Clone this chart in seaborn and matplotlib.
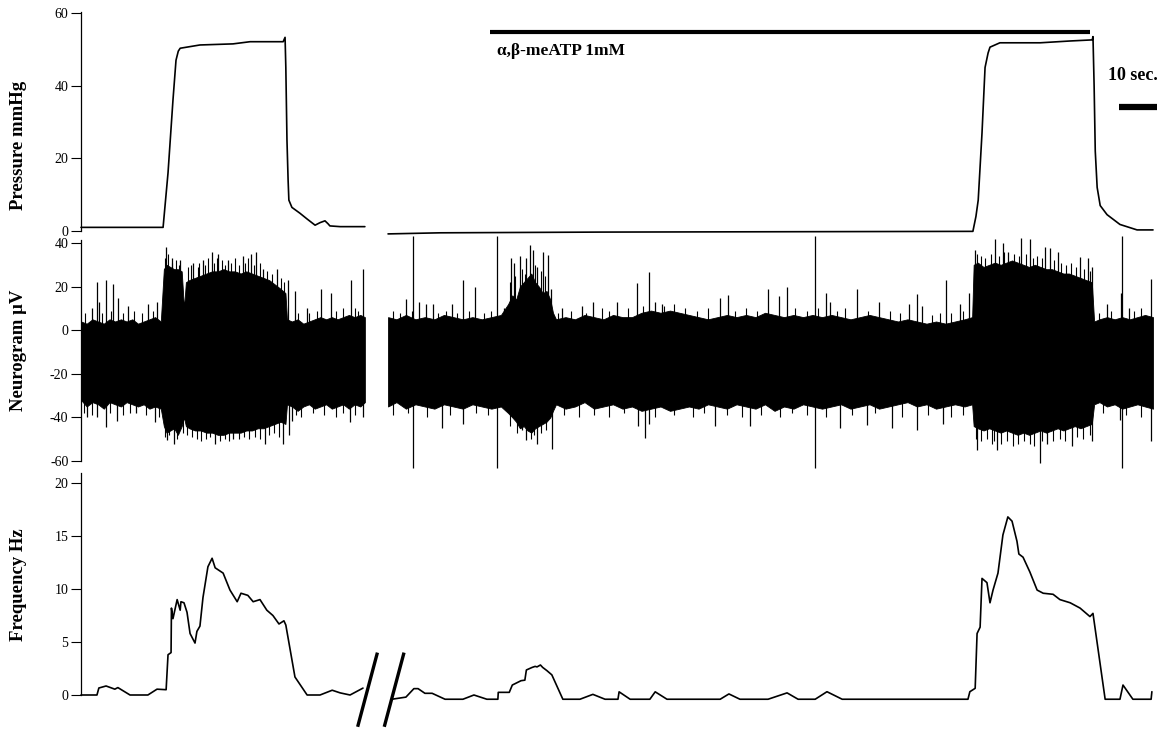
import matplotlib
matplotlib.use("Agg")
import matplotlib.pyplot as plt
import seaborn as sns

# ---------------- data (time in seconds) ----------------
# Pressure (mmHg)
press1_t = [0, 21.6, 22.9, 24.2, 25.0, 25.6, 26.1, 31.3, 40.0, 44.5, 53.2, 53.7, 53.9, 54.2, 54.5, 54.7,
            55.5, 57.6, 59.5, 61.6, 62.9, 64.2, 65.0, 65.5, 68.2, 74.7]
press1_v = [1.0, 1.0, 16, 36, 47, 49.5, 50.3, 51.2, 51.5, 52.1, 52.1, 53.3, 45, 25, 14, 8.5,
            6.5, 4.9, 3.3, 1.6, 2.3, 2.8, 2.0, 1.4, 1.2, 1.2]
press2_t = [80.8, 94.5, 136.6, 234.7, 235.5, 236.1, 237.1, 237.9, 238.7, 239.2, 241.8, 252.4, 260.3,
            266.1, 266.3, 266.6, 266.9, 267.4, 268.2, 270.0, 273.4, 277.9, 282.1]
press2_v = [-0.8, -0.5, -0.3, -0.1, 4, 8.5, 27, 45, 49, 50.6, 51.8, 51.8, 52.3,
            52.6, 53.5, 40, 22, 12, 7, 4.5, 1.8, 0.3, 0.3]

# Neurogram envelope (uV)
neuro1_t = [0, 1.5, 3, 4.5, 6, 7.5, 9, 10.5, 12, 13.5, 15, 16.5, 18, 19.5, 21,
            21.8, 22.5, 23.5, 24.5, 25.5, 26.5, 27.1, 27.6, 28.5, 30, 31.5, 33, 34.5, 36, 37.5, 39,
            40.5, 42, 43.5, 45, 46.5, 48, 49.5, 51, 52.5, 53.8,
            54.2, 55.5, 57, 58.5, 60, 61.5, 63, 64.5, 66, 67.5, 69, 70.5, 72, 73.5, 74.7]
neuro1_hi = [4, 3, 5, 4, 3, 5, 4, 5, 4, 5, 3, 4, 5, 6, 4,
             28, 30, 29, 28, 28, 27, 10, 22, 23, 24, 25, 26, 27, 27, 28, 27,
             27, 26, 27, 26, 25, 24, 23, 21, 19, 17,
             5, 4, 5, 3, 4, 5, 6, 5, 6, 5, 6, 7, 6, 7, 6]
neuro1_lo = [-32, -35, -33, -34, -36, -33, -34, -35, -33, -34, -35, -34, -36, -35, -36,
             -44, -47, -46, -45, -48, -44, -40, -44, -45, -46, -46, -47, -47, -48, -48, -47,
             -47, -47, -46, -46, -45, -45, -44, -43, -42, -43,
             -34, -35, -37, -35, -34, -36, -35, -34, -36, -35, -34, -36, -34, -35, -33]

neuro2_t = [80.8, 83, 85.5, 88, 90.5, 93, 95.5, 98, 100.5, 103, 105.5, 108, 110.5,
            112.4, 113.5, 114.5, 115.5, 116.5, 117.5, 118.5, 119.5, 120.5, 121.5, 122.5, 123.5, 124.2,
            125, 127.5, 130, 132.5, 135, 137.5, 140, 142.5, 145, 147.5, 150, 152.5, 155, 157.5, 160,
            162.5, 165, 167.5, 170, 172.5, 175, 177.5, 180, 182.5, 185, 187.5, 190, 192.5, 195, 197.5,
            200, 202.5, 205, 207.5, 210, 212.5, 215, 217.5, 220, 222.5, 225, 227.5, 230, 232.5, 234.5,
            234.9, 236, 237.5, 239, 240.5, 242, 243.5, 245, 246.5, 248, 249.5, 251, 252.5, 254, 255.5,
            257, 258.5, 260, 261.5, 263, 264.5, 266,
            266.6, 268, 270, 272, 274, 276, 278, 280, 282.1]
neuro2_hi = [6, 5, 7, 5, 6, 5, 7, 6, 5, 6, 5, 6, 7,
             12, 16, 14, 20, 22, 24, 26, 22, 20, 17, 18, 14, 8,
             5, 6, 5, 7, 6, 5, 7, 6, 6, 8, 9, 8, 9, 8, 7,
             6, 5, 6, 7, 6, 7, 6, 8, 7, 6, 7, 6, 7, 6, 7,
             6, 5, 6, 7, 6, 5, 4, 5, 4, 3, 4, 3, 4, 5, 6,
             30, 31, 29, 30, 31, 30, 31, 32, 31, 30, 29, 30, 29, 28, 28,
             27, 26, 26, 25, 24, 23, 22,
             4, 5, 6, 5, 6, 5, 6, 7, 6]
neuro2_lo = [-35, -33, -36, -34, -35, -36, -34, -35, -36, -34, -35, -36, -35,
             -38, -40, -42, -45, -44, -46, -47, -45, -44, -43, -42, -40, -37,
             -34, -36, -35, -33, -36, -35, -34, -36, -35, -37, -36, -35, -37, -36, -35,
             -36, -34, -35, -36, -34, -35, -36, -34, -37, -35, -36, -34, -35, -36, -35,
             -34, -36, -35, -34, -36, -35, -34, -33, -35, -34, -36, -35, -34, -35, -34,
             -44, -45, -46, -45, -46, -47, -46, -47, -48, -47, -48, -47, -46, -47, -46,
             -45, -46, -45, -44, -45, -44, -43,
             -34, -33, -35, -34, -36, -35, -34, -35, -36]

# Individual spikes (uV)
spk1_up_t = [2.9, 4.2, 4.7, 6.6, 8.4, 9.7, 12.4, 17.6, 20.0, 22.4, 23.9, 26.1, 29.5, 32.1, 34.5,
             36.1, 38.7, 42.6, 44.7, 46.1, 47.9, 51.6, 54.5, 56.3, 59.5, 63.2, 65.8, 71.1, 74.2]
spk1_up_v = [10, 22, 13, 23, 21, 15, 11, 12, 13, 38, 33, 32, 31, 32, 36,
             35, 32, 34, 35, 36, 28, 28, 23, 18, 10, 19, 17, 23, 28]
spk1_dn_t = [1.6, 4.2, 6.6, 9.4, 14.5, 19.5, 22.6, 24.5, 35.3, 40.0, 48.4, 53.2, 54.7, 55.5, 70.8, 74.2]
spk1_dn_v = [-40, -40, -44.5, -41.5, -38, -42, -50.5, -52, -52, -50, -52, -52, -48, -41.5, -42, -40]
spk2_up_t = [85.5, 88.9, 90.8, 92.6, 97.6, 100.5, 103.7, 111.3, 113.2, 113.9, 115.5, 117.1, 118.2,
             118.9, 120.0, 121.6, 122.9, 123.7, 126.6, 131.8, 134.7, 141.1, 146.3, 149.5, 151.1,
             152.9, 168.2, 170.3, 180.8, 183.7, 185.8, 196.1, 197.1, 204.2, 210.0, 217.9, 220.0,
             221.3, 227.6, 231.3, 233.7, 235.3, 240.5, 242.6, 244.0, 247.4, 249.7, 253.7, 255.0,
             257.1, 262.9, 265.0, 266.1, 270.0, 273.7, 275.8, 281.6]
spk2_up_v = [14.5, 13, 12, 12, 12, 23, 20, 10, 33, 31, 34, 33, 39,
             37, 29, 36, 34.6, 19, 10, 11, 13, 13, 21.5, 26.6, 13,
             12, 15, 16, 19, 15.5, 20, 17, 13, 19, 13, 12, 16.5,
             11, 23, 12, 17, 37, 42, 40, 36, 42.5, 42, 38, 37.6,
             36, 33.5, 33, 29, 12, 17, 10, 23.5]
spk2_dn_t = [95.0, 100.5, 116.1, 117.1, 120.0, 123.9, 146.6, 148.4, 149.5, 166.8, 176.1, 199.7,
             206.8, 213.4, 220.0, 226.8, 235.8, 241.1, 252.4, 254.2, 260.8, 266.1, 273.4, 281.6]
spk2_dn_v = [-45, -43, -46, -50.5, -52, -54.6, -44, -49.5, -43, -44, -44, -45,
             -43.5, -45, -46, -43, -55, -55, -61, -52, -53, -51, -41, -51]
big_spk_t = [87.4, 109.5, 193.2, 273.9]
big_spk_hi = [43, 43, 43, 43]
big_spk_lo = [-63, -63, -63, -63]

# Short "hair" excursions along the edges of the noise band (time, uV)
hair_up = [(1, 8), (5.5, 8), (8, 9), (11, 8), (14, 9), (16, 8), (19, 9),
           (22.0, 33), (23.0, 35), (24.0, 31), (25.0, 32), (25.8, 30), (28.2, 29), (29.0, 30),
           (30.7, 29), (31.0, 31), (32.7, 30), (33.5, 33), (35.0, 31), (35.8, 33), (37.0, 32),
           (37.9, 30), (39.6, 31), (40.5, 33), (41.5, 30), (43.2, 31), (44.0, 33), (45.5, 30),
           (47.0, 31), (49.0, 27), (50.3, 26), (52.6, 24), (53.5, 22),
           (57, 8), (60, 8), (62, 9), (67, 9), (69, 10), (72, 10), (73, 9),
           (82, 9), (84, 8), (87, 9), (94, 8), (96, 9), (99, 8), (102, 9), (106, 8), (108, 9),
           (112.8, 22), (114.2, 25), (116.0, 28), (116.8, 26), (119.6, 30), (121.0, 27), (122.2, 25),
           (125.5, 8), (129, 9), (133, 8), (137, 10), (139, 9), (144, 10), (148, 11), (153.5, 11),
           (156, 12), (159, 10), (162, 9), (165, 10), (172, 9), (175, 10), (178, 9), (188, 10),
           (191, 9), (194, 10), (199, 9), (201, 10), (207, 9), (213, 9), (215.5, 8), (224, 7),
           (226, 8), (229, 8), (232, 9),
           (235.8, 35), (236.8, 34), (238.0, 33), (239.5, 35), (241.5, 34), (243.0, 36), (245.6, 35),
           (246.8, 34), (248.6, 35), (250.5, 33), (251.6, 34), (253.0, 33), (256.0, 32), (258.0, 31),
           (259.3, 30), (260.5, 31), (261.8, 29), (264.0, 28), (265.6, 27),
           (268, 8), (271, 9), (277, 9), (279, 10)]
hair_dn = [(0.8, -38), (3, -39), (7.6, -38), (11, -39), (13, -38), (17, -39), (20.6, -40),
           (22.0, -49), (23.2, -48), (25.2, -50), (26.8, -47), (28.0, -48), (29.2, -49), (30.5, -50),
           (31.6, -51), (33.0, -50), (34.0, -49), (36.6, -51), (37.8, -50), (39.0, -51), (41.5, -50),
           (43.0, -49), (44.2, -50), (45.8, -49), (47.2, -50), (49.5, -48), (50.8, -47), (52.0, -49),
           (56.5, -39), (58, -40), (61, -38), (64, -39), (67, -40), (69, -38), (72, -39),
           (82, -39), (86, -38), (91, -40), (97, -39), (104, -38), (107, -39),
           (113.0, -44), (114.8, -47), (118.5, -50), (119.3, -48), (121.0, -47), (122.3, -46),
           (127, -39), (131, -40), (135, -39), (139, -40), (143, -38), (151, -40), (156, -39),
           (161, -40), (164, -38), (170, -39), (174, -40), (179, -39), (184, -40), (187, -38),
           (191, -39), (196, -40), (203, -39), (209, -38), (216, -40), (223, -39), (229, -40),
           (232, -39),
           (235.5, -50), (236.8, -51), (238.3, -50), (239.6, -52), (240.3, -51), (242.2, -52),
           (243.6, -51), (245.2, -53), (246.6, -52), (248.2, -51), (249.6, -52), (250.8, -53),
           (253.0, -51), (255.8, -51), (257.5, -50), (259.0, -51), (262.0, -49), (263.8, -50),
           (265.4, -48),
           (269, -38), (275, -39), (279, -40)]

# Frequency (Hz)
freq1_t = [0, 4.2, 4.7, 6.6, 8.9, 9.7, 12.9, 17.6, 20.0, 22.4, 22.9, 23.7, 23.8, 24.2, 25.3, 26.1,
           26.3, 27.1, 27.9, 28.7, 30.0, 30.5, 31.3, 32.1, 33.4, 34.5, 35.3, 37.4, 39.2, 41.1, 42.1,
           43.9, 45.3, 47.1, 48.9, 50.5, 52.1, 53.4, 53.9, 56.3, 59.5, 62.9, 66.1, 68.2, 70.8, 74.2]
freq1_v = [0, 0, 0.66, 0.85, 0.55, 0.7, 0, 0, 0.55, 0.5, 3.8, 4.0, 8.2, 7.2, 9.0, 8.0,
           8.8, 8.7, 7.8, 5.8, 4.9, 6.0, 6.5, 9.2, 12.1, 12.9, 12.0, 11.5, 9.9, 8.8, 9.6,
           9.4, 8.8, 9.0, 8.0, 7.5, 6.7, 7.0, 6.6, 1.7, 0, 0, 0.45, 0.2, 0, 0.65]
freq2_t = [81.8, 85.5, 87.6, 88.7, 90.5, 92.4, 95.8, 100.5, 103.4, 106.8, 109.7, 109.8, 112.7, 113.5,
           115.8, 116.8, 117.2, 118.7, 119.5, 120.0, 120.9, 121.5, 122.6, 123.9, 126.8, 131.3, 134.7,
           137.9, 141.3, 141.6, 144.5, 149.7, 151.1, 154.2, 168.2, 170.5, 173.4, 180.8, 185.8, 188.7,
           193.2, 196.3, 200.3, 233.4, 233.9, 235.3, 235.8, 236.6, 237.1, 238.4, 239.2, 240.0, 241.3,
           242.6, 243.9, 245.0, 246.3, 246.8, 247.9, 249.7, 251.6, 253.2, 255.8, 257.6, 260.3, 262.9,
           265.5, 266.3, 269.5, 273.4, 274.2, 276.8, 281.6, 281.8]
freq2_v = [-0.4, -0.2, 0.6, 0.6, 0.16, 0.16, -0.4, -0.4, 0.0, -0.4, -0.4, 0.25, 0.25, 0.94,
           1.35, 1.4, 2.36, 2.6, 2.7, 2.65, 2.83, 2.6, 2.3, 1.9, -0.4, -0.4, 0.06,
           -0.4, -0.4, 0.3, -0.4, -0.4, 0.3, -0.4, -0.4, 0.1, -0.4, -0.4, 0.2, -0.4,
           -0.4, 0.31, -0.4, -0.4, 0.31, 0.63, 5.8, 6.4, 11.0, 10.6, 8.7, 9.9, 11.5,
           15.1, 16.8, 16.4, 14.5, 13.3, 13.0, 11.6, 9.9, 9.6, 9.5, 9.0, 8.7, 8.2,
           7.4, 7.7, -0.4, -0.4, 0.94, -0.4, -0.4, 0.31]

press_ticks = [0, 20, 40, 60]
neuro_ticks = [-60, -40, -20, 0, 20, 40]
freq_ticks = [0, 5, 10, 15, 20]

drug_label = "α,β-meATP 1mM"
drug_start, drug_end = 107.6, 265.5
scale_len = 10  # seconds
scale_label = "10 sec."

# ---------------- styling ----------------
sns.set_theme(style="ticks")
plt.rcParams["font.family"] = ["Liberation Serif", "DejaVu Serif"]
plt.rcParams["axes.unicode_minus"] = False
for k in ["text.color", "axes.labelcolor", "xtick.color", "ytick.color", "axes.edgecolor"]:
    plt.rcParams[k] = "black"

W, H = 1164, 729
fig = plt.figure(figsize=(W / 100, H / 100), dpi=100)
left = 81 / W
width = 1080 / W
ax_p = fig.add_axes([left, 1 - 231 / H, width, 218 / H])
ax_n = fig.add_axes([left, 1 - 461 / H, width, 218 / H])
ax_f = fig.add_axes([left, 1 - 695 / H, width, 212 / H])
XMAX = 284.2

def style(ax, ylim, ticks, bounds):
    ax.set_xlim(0, XMAX)
    ax.set_ylim(*ylim)
    for s in ["top", "right", "bottom"]:
        ax.spines[s].set_visible(False)
    ax.spines["left"].set_linewidth(0.9)
    ax.spines["left"].set_bounds(*bounds)
    ax.set_xticks([])
    ax.set_yticks(ticks)
    ax.set_yticklabels([str(t) for t in ticks])
    ax.tick_params(axis="y", length=7, width=0.8, pad=2, labelsize=10, direction="out")
    ax.set_xlabel("")
    ax.set_ylabel("")
    ax.patch.set_alpha(0)

# Pressure
for t, v in [(press1_t, press1_v), (press2_t, press2_v)]:
    sns.lineplot(x=t, y=v, ax=ax_p, color="black", linewidth=1.2, estimator=None, sort=False)
style(ax_p, (0, 60), press_ticks, (0, 60.3))

# Neurogram
for t, lo, hi in [(neuro1_t, neuro1_lo, neuro1_hi), (neuro2_t, neuro2_lo, neuro2_hi)]:
    ax_n.fill_between(t, lo, hi, color="black", linewidth=0.6, edgecolor="black")
ax_n.vlines([p[0] for p in hair_up], -10, [p[1] for p in hair_up], color="black", linewidth=0.8)
ax_n.vlines([p[0] for p in hair_dn], [p[1] for p in hair_dn], -10, color="black", linewidth=0.8)
ax_n.vlines(spk1_up_t + spk2_up_t, -10, spk1_up_v + spk2_up_v, color="black", linewidth=0.9)
ax_n.vlines(spk1_dn_t + spk2_dn_t, spk1_dn_v + spk2_dn_v, -10, color="black", linewidth=0.9)
ax_n.vlines(big_spk_t, big_spk_lo, big_spk_hi, color="black", linewidth=0.9, clip_on=False)
style(ax_n, (-60, 40), neuro_ticks, (-60, 41.5))

# Frequency
for t, v in [(freq1_t, freq1_v), (freq2_t, freq2_v)]:
    sns.lineplot(x=t, y=v, ax=ax_f, color="black", linewidth=1.2, estimator=None, sort=False)
style(ax_f, (0, 20), freq_ticks, (0, 20.9))

for ax in (ax_p, ax_n, ax_f):
    for ln in ax.lines:
        ln.set_clip_on(False)
        ln.set_solid_joinstyle("round")
    for c in ax.collections:
        c.set_clip_on(False)

# Break marks between segments
gap_end1 = max(freq1_t)
gap_start2 = min(neuro2_t)
for cx in (gap_end1 + 1.2, gap_start2 + 1.6):
    ax_f.plot([cx - 2.6, cx + 2.6], [-3.0, 4.0], color="black", linewidth=2.4,
              solid_capstyle="butt", clip_on=False)

# Drug application bar and label
ax_p.plot([drug_start, drug_end], [54.8, 54.8], color="black", linewidth=3,
          solid_capstyle="butt", clip_on=False)
ax_p.text(drug_start + 1.8, 49.6, drug_label, fontsize=12.5, fontweight="bold",
          ha="left", va="center")

# Time scale bar
sb_end = XMAX - 1.0
ax_p.plot([sb_end - scale_len, sb_end], [34.1, 34.1], color="black", linewidth=4.5,
          solid_capstyle="butt", clip_on=False)
ax_p.text(sb_end - scale_len / 2 - 1.3, 42.9, scale_label, fontsize=13, fontweight="bold",
          ha="center", va="center")

# Y-axis titles
fig.text(19 / W, 1 - 145 / H, "Pressure mmHg", rotation=90, ha="center", va="center",
         fontsize=13.5, fontweight="bold")
fig.text(19 / W, 1 - 350 / H, "Neurogram μV", rotation=90, ha="center", va="center",
         fontsize=13.5, fontweight="bold")
fig.text(19 / W, 1 - 585 / H, "Frequency Hz", rotation=90, ha="center", va="center",
         fontsize=13.5, fontweight="bold")

fig.savefig("out.png", dpi=100, facecolor="white")
